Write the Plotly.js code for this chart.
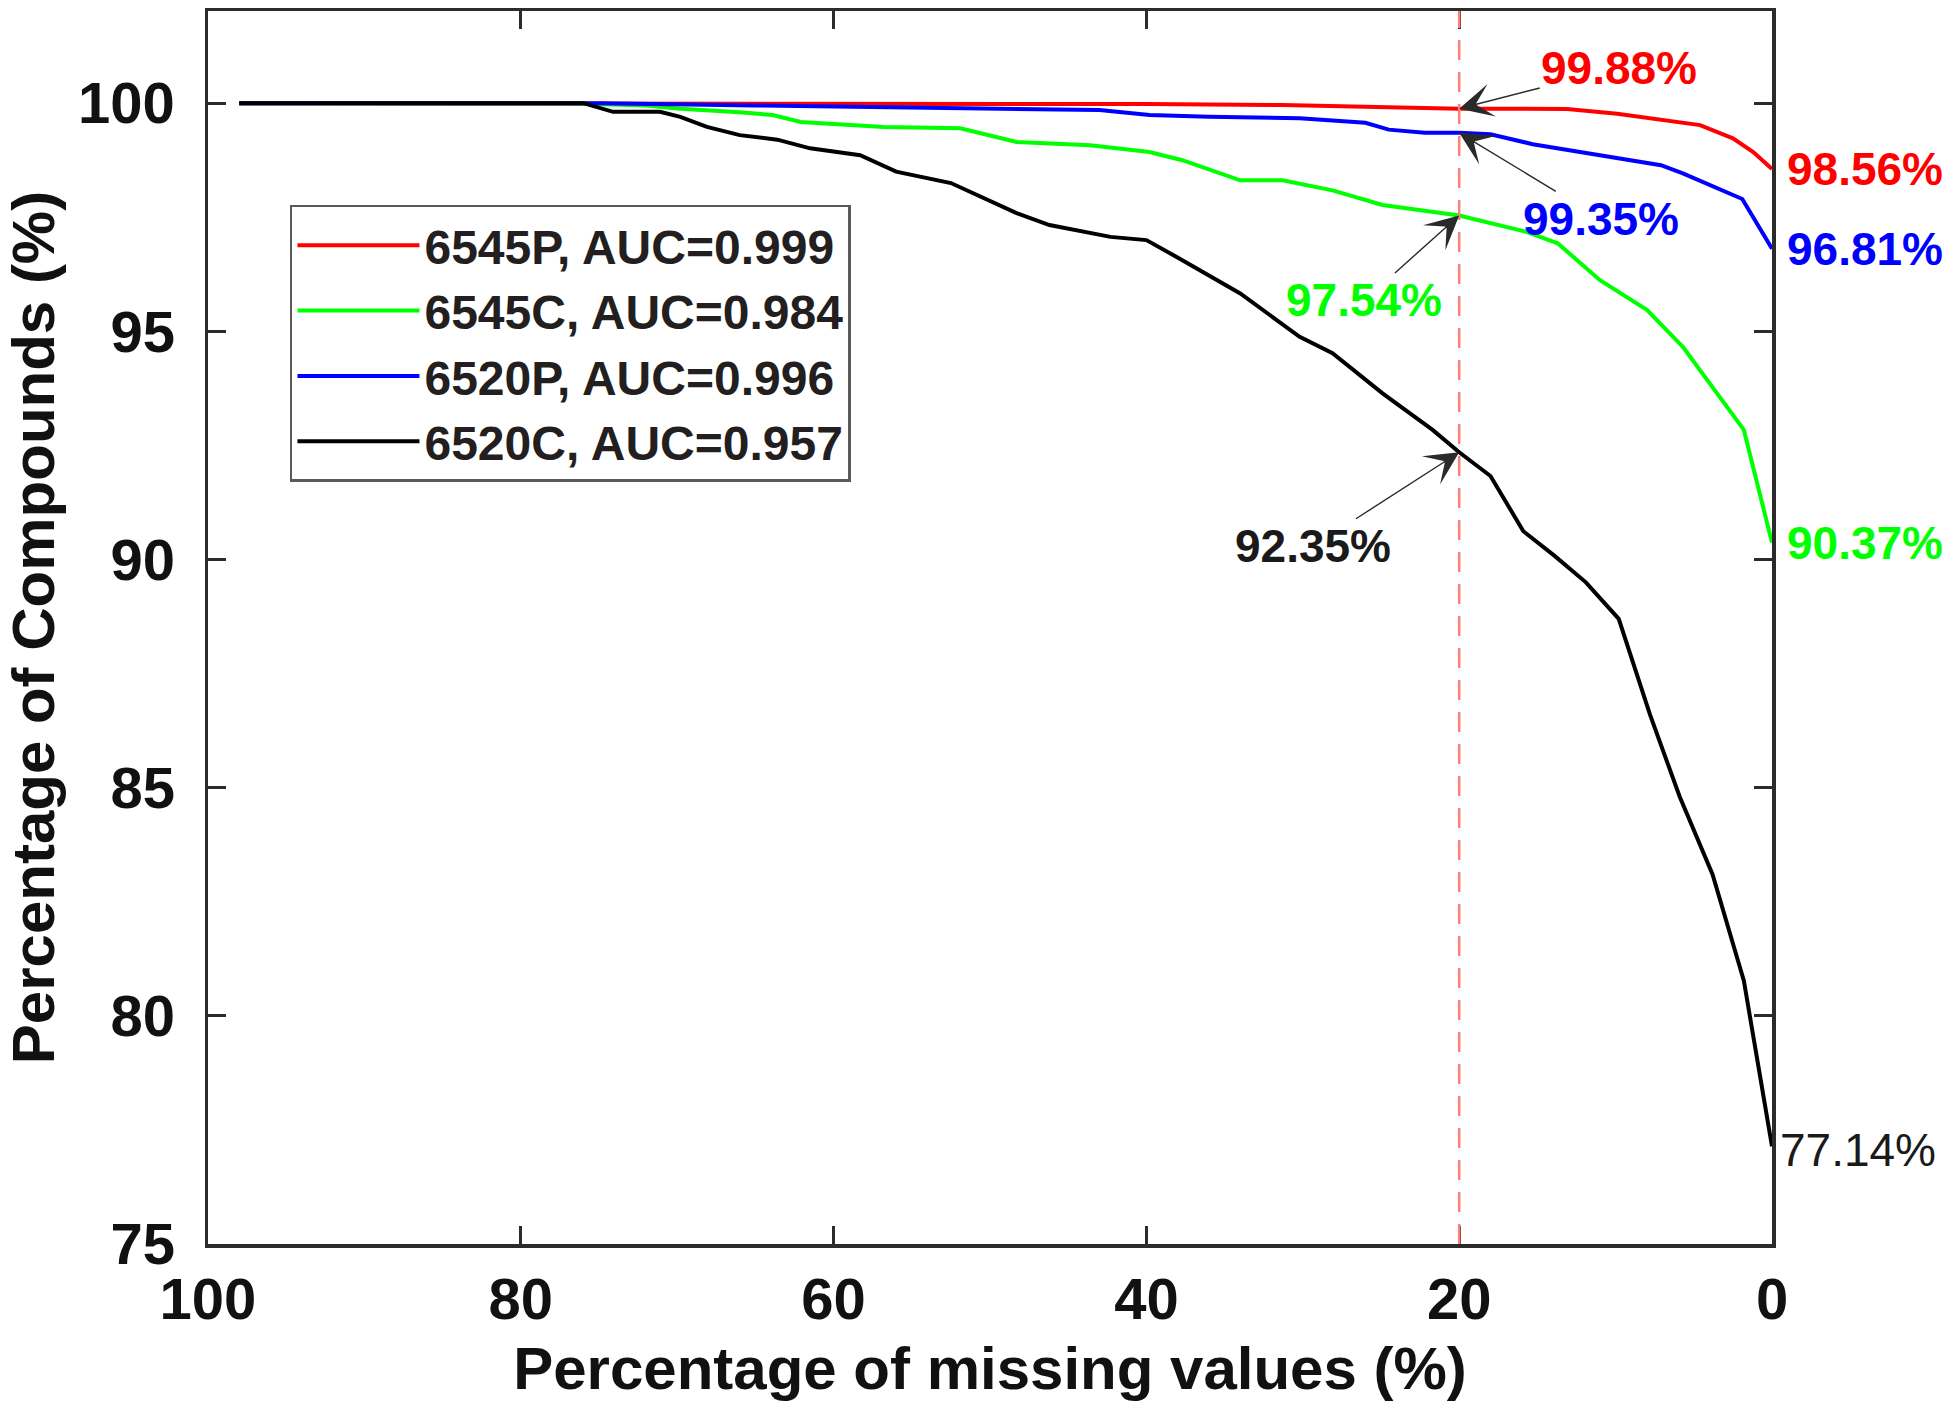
<!DOCTYPE html>
<html>
<head>
<meta charset="utf-8">
<script src="https://cdn.plot.ly/plotly-3.0.1.min.js"></script>
<style>
  html, body { margin: 0; padding: 0; background: #ffffff; }
  #chart { width: 1950px; height: 1407px; }
</style>
</head>
<body>
<div id="chart"></div>
<script>
// ---- Data ----
// x = percentage of missing values (%), y = percentage of compounds (%)
const seriesNames = ["6545P, AUC=0.999", "6545C, AUC=0.984", "6520P, AUC=0.996", "6520C, AUC=0.957"];
const seriesColors = ["#ff0000", "#00ff00", "#0000ff", "#000000"];

const x6545P = [98, 80, 60, 52.6, 40, 31.3, 24, 20, 16, 13.1, 9.9, 6.7, 4.6, 2.5, 1.2, 0];
const y6545P = [100, 100, 100, 99.99, 99.98, 99.96, 99.92, 99.88, 99.88, 99.87, 99.77, 99.63, 99.52, 99.23, 98.93, 98.56];

const x6545C = [98, 77, 72, 69.8, 66, 63.9, 62.1, 56.8, 51.9, 48.3, 43.6, 39.8, 37.7, 34, 31.3, 28.1, 24.9, 20.6, 20, 15.7, 13.7, 11, 8, 5.7, 1.8, 0];
const y6545C = [100, 100, 99.95, 99.88, 99.8, 99.74, 99.59, 99.48, 99.45, 99.15, 99.08, 98.93, 98.75, 98.31, 98.31, 98.09, 97.77, 97.58, 97.54, 97.18, 96.93, 96.12, 95.47, 94.66, 92.84, 90.37];

const x6520P = [98, 75, 65, 55, 52.6, 47, 43, 39.8, 36, 30.2, 26, 24.5, 22.2, 20, 18, 15.3, 11, 7.1, 5.7, 1.9, 0];
const y6520P = [100, 100, 99.95, 99.9, 99.88, 99.86, 99.85, 99.74, 99.7, 99.67, 99.57, 99.42, 99.35, 99.35, 99.32, 99.1, 98.86, 98.64, 98.46, 97.9, 96.81];

const x6520C = [98, 76, 74.1, 71.1, 69.8, 68.1, 66, 63.6, 61.5, 58.3, 56, 52.5, 48.3, 46.2, 42.3, 40, 37.7, 34, 30.2, 28.1, 24.9, 21.7, 20, 18, 15.9, 13.9, 11.9, 9.8, 7.8, 5.9, 3.8, 1.8, 0];
const y6520C = [100, 100, 99.81, 99.81, 99.7, 99.48, 99.3, 99.2, 99.01, 98.86, 98.5, 98.25, 97.59, 97.33, 97.07, 97.0, 96.56, 95.83, 94.88, 94.52, 93.64, 92.84, 92.35, 91.83, 90.62, 90.08, 89.5, 88.7, 86.6, 84.8, 83.1, 80.77, 77.14];

// Threshold marker and labelled values
const thresholdX = 20;
const thresholdValues = [99.88, 97.54, 99.35, 92.35];   // order: 6545P, 6545C, 6520P, 6520C
const thresholdLabels = ["99.88%", "97.54%", "99.35%", "92.35%"];
const endValues = [98.56, 90.37, 96.81, 77.14];
const endLabels = ["98.56%", "90.37%", "96.81%", "77.14%"];

const xTickVals = [100, 80, 60, 40, 20, 0];
const yTickVals = [75, 80, 85, 90, 95, 100];

// ---- Build chart ----
const xs = [x6545P, x6545C, x6520P, x6520C];
const ys = [y6545P, y6545C, y6520P, y6520C];

const FONT = "Liberation Sans, Arial, sans-serif";

const traces = seriesNames.map((name, i) => ({
  type: "scatter",
  mode: "lines",
  name: name,
  x: xs[i],
  y: ys[i],
  line: { color: seriesColors[i], width: 4, shape: "linear" }
}));

// arrow offsets (px) for the threshold labels
const arrowOffsets = [[160, -41], [-95, 85], [142, 86], [-146, 94]];

const annotations = [];
thresholdValues.forEach((v, i) => {
  annotations.push({
    x: thresholdX, y: v, xref: "x", yref: "y",
    text: thresholdLabels[i],
    showarrow: true,
    ax: arrowOffsets[i][0], ay: arrowOffsets[i][1],
    arrowhead: 3, arrowsize: 4, arrowwidth: 1.4, arrowcolor: "#2a2a2a",
    standoff: 0,
    font: { family: FONT, size: 46, weight: "bold", color: i === 3 ? "#1a1a1a" : seriesColors[i] }
  });
});
endValues.forEach((v, i) => {
  annotations.push({
    x: 0, y: v, xref: "x", yref: "y",
    text: endLabels[i],
    showarrow: false,
    xanchor: "left", yanchor: "middle",
    xshift: i === 3 ? 6 : 13,
    yshift: i === 3 ? -4 : 0,
    font: { family: FONT, size: 46, weight: i === 3 ? "normal" : "bold", color: i === 3 ? "#1a1a1a" : seriesColors[i] }
  });
});

const axisCommon = {
  showline: true, linecolor: "#2b2b2b", linewidth: 3.5,
  mirror: "allticks",
  ticks: "inside", ticklen: 18, tickwidth: 3, tickcolor: "#2b2b2b",
  showgrid: false, zeroline: false,
  tickfont: { family: FONT, size: 58, weight: "bold", color: "#111111" }
};

const layout = {
  width: 1950, height: 1407,
  margin: { l: 208, r: 178, t: 11, b: 163 },
  paper_bgcolor: "#ffffff", plot_bgcolor: "#ffffff",
  showlegend: true,
  legend: {
    x: 0.0524, y: 0.8427, xanchor: "left", yanchor: "top",
    bgcolor: "#ffffff", bordercolor: "#5a5a5a", borderwidth: 2.5,
    font: { family: FONT, size: 48, weight: "bold", color: "#231f20" },
    itemwidth: 122
  },
  xaxis: Object.assign({}, axisCommon, {
    range: [100, 0], tickvals: xTickVals, ticktext: xTickVals.map(String),
    ticklabelstandoff: 2,
    title: { text: "Percentage of missing values (%)", standoff: 18,
             font: { family: FONT, size: 60, weight: "bold", color: "#111111" } }
  }),
  yaxis: Object.assign({}, axisCommon, {
    range: [75, 102.02], tickvals: yTickVals, ticktext: yTickVals.map(String),
    ticklabelstandoff: 18,
    title: { text: "Percentage of Compounds (%)", standoff: 22,
             font: { family: FONT, size: 60, weight: "bold", color: "#111111" } }
  }),
  shapes: [{
    type: "line", xref: "x", yref: "paper",
    x0: thresholdX, x1: thresholdX, y0: 0, y1: 1,
    line: { color: "#ff7f7f", width: 2.5, dash: "20px,12px" },
    layer: "above"
  }],
  annotations: annotations
};

Plotly.newPlot("chart", traces, layout, { displayModeBar: false, staticPlot: true });
</script>
</body>
</html>
